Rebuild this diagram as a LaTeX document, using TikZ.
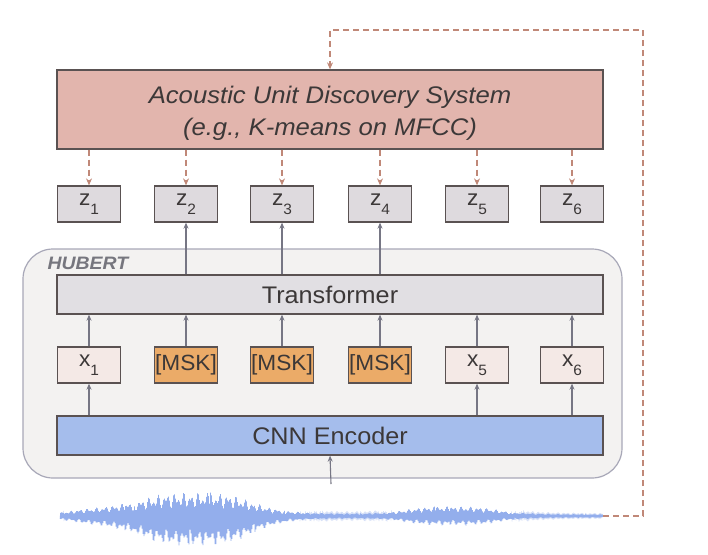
\documentclass[tikz,border=0pt]{standalone}
\usepackage{fontspec}
\setmainfont{Liberation Sans}
\usetikzlibrary{arrows.meta}
\definecolor{audsfill}{HTML}{E2B5AD}
\definecolor{zfill}{HTML}{DEDADE}
\definecolor{hubfill}{HTML}{F3F2F1}
\definecolor{hubline}{HTML}{A8A8B8}
\definecolor{trfill}{HTML}{E1DFE3}
\definecolor{xfill}{HTML}{F4E9E6}
\definecolor{mskfill}{HTML}{EBAB68}
\definecolor{cnnfill}{HTML}{A5BDEC}
\definecolor{txt}{HTML}{3C3838}
\definecolor{edge}{HTML}{5A5252}
\definecolor{garrow}{HTML}{767684}
\definecolor{dashc}{HTML}{C08878}
\definecolor{ohead}{HTML}{E8A050}
\definecolor{wave}{HTML}{93AEEC}
\tikzset{
  bigbox/.style={draw=edge, line width=1.3pt, minimum width=546pt, inner sep=0pt, text=txt},
  smallbox/.style={draw=edge, line width=1.3pt, minimum width=63pt, minimum height=36pt, inner sep=0pt, text=txt, font=\fontsize{22}{24}\selectfont\addfontfeature{FakeStretch=1.03}},
  garr/.style={draw=garrow, line width=1.1pt, -{Stealth[length=6pt,width=5pt]}},
  oarr/.style={draw=dashc, line width=1.1pt, dash pattern=on 6pt off 4pt, -{Stealth[length=7pt,width=6pt,fill=ohead]}},
}
\newcommand{\sub}[1]{\raisebox{-0.42em}{\fontsize{15}{15}\selectfont #1}}
\begin{document}
\begin{tikzpicture}[x=1pt,y=-1pt,
  declare function={
    bump(\p,\c,\w)=1/(1+min(abs(\p-\c)/\w,8)^4);
    wnoise(\q)=0.5+0.5*sin(mod(\q,150)*97.3)*cos(mod(\q,130)*61.7);
  }]
\useasboundingbox (0,0) rectangle (708,554);
\fill[white] (0,0) rectangle (708,554);
% HUBERT container
\node[draw=hubline, fill=hubfill, line width=1.2pt, rounded corners=30pt, minimum width=599pt, minimum height=229pt, inner sep=0pt] (hub) at (322.5,363.5) {};
\node[anchor=base west, text={rgb,255:red,118;green,118;blue,126}, font=\fontsize{18}{18}\selectfont\bfseries\itshape\addfontfeature{FakeStretch=1.08}] (hublab) at (44,269) {HUBERT};
% big boxes
\node[bigbox, fill=audsfill, minimum height=79pt, align=center, font=\fontsize{24}{32}\selectfont\itshape\addfontfeature{FakeStretch=1.07}] (auds) at (330,109.5) {\raisebox{-9.5pt}[0pt][0pt]{\begin{tabular}{@{}c@{}}Acoustic Unit Discovery System\\(e.g., K-means on MFCC)\end{tabular}}};
\node[bigbox, fill=trfill, minimum height=39pt, font=\fontsize{24}{26}\selectfont\addfontfeature{FakeStretch=1.05}] (tr) at (330,294.5) {Transformer};
\node[bigbox, fill=cnnfill, minimum height=39pt, font=\fontsize{24}{26}\selectfont\addfontfeature{FakeStretch=1.05}] (cnn) at (330,435.5) {CNN Encoder};
% z row
\node[smallbox, fill=zfill] (z1) at (89,204) {z\sub{1}};
\node[smallbox, fill=zfill] (z2) at (186,204) {z\sub{2}};
\node[smallbox, fill=zfill] (z3) at (282,204) {z\sub{3}};
\node[smallbox, fill=zfill] (z4) at (380,204) {z\sub{4}};
\node[smallbox, fill=zfill] (z5) at (477,204) {z\sub{5}};
\node[smallbox, fill=zfill] (z6) at (572,204) {z\sub{6}};
% x row
\node[smallbox, fill=xfill] (x1) at (89,365) {x\sub{1}};
\node[smallbox, fill=mskfill] (m2) at (186,365) {[MSK]};
\node[smallbox, fill=mskfill] (m3) at (282,365) {[MSK]};
\node[smallbox, fill=mskfill] (m4) at (380,365) {[MSK]};
\node[smallbox, fill=xfill] (x5) at (477,365) {x\sub{5}};
\node[smallbox, fill=xfill] (x6) at (572,365) {x\sub{6}};
% dashed orange arrows
\foreach \n in {z1,z2,z3,z4,z5,z6}{
  \draw[oarr] (\n |- auds.south) -- (\n.north);
}
% transformer to z
\foreach \n in {z2,z3,z4}{
  \draw[garr] (\n |- tr.north) -- (\n.south);
}
% x to transformer
\foreach \n in {x1,m2,m3,m4,x5,x6}{
  \draw[garr] (\n.north) -- (\n |- tr.south);
}
% cnn to x
\foreach \n in {x1,x5,x6}{
  \draw[garr] (\n |- cnn.north) -- (\n.south);
}
% waveform
\coordinate (win) at (331,484);
\coordinate (wend) at (603,516);
\coordinate (fb) at (643,30);
\draw[wave, line width=1.2pt] (60,516) -- (wend);
\draw[wave, line width=0.55pt] plot[variable=\k, domain=0:1086, samples=1087]
  ({60+\k/2}, {516 + (1-2*mod(\k,2))*(
       (0.4+0.6*wnoise(\k))*(1.5 + 25*bump(60+\k/2,195,62) + 8*bump(60+\k/2,452,50) + 4*bump(60+\k/2,100,32)))
     + 3*bump(60+\k/2,195,62)});
\draw[garr] (win) -- (cnn.south);
% feedback dashed line
\draw[oarr] (wend) -| (fb) -| (auds.north);
\end{tikzpicture}
\end{document}
